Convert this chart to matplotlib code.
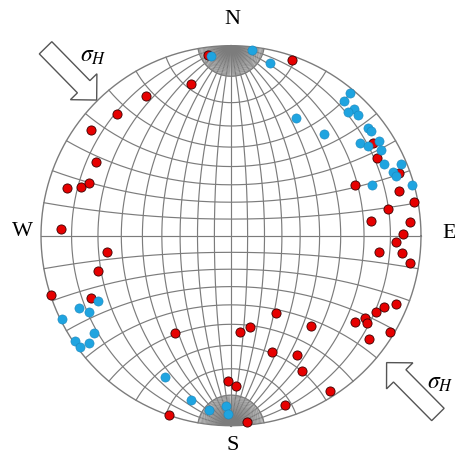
import numpy as np
import matplotlib
matplotlib.use('Agg')
import matplotlib.pyplot as plt
from matplotlib.patches import FancyArrow

# point positions in net units (radius = 1), x = east, y = north
red_x = [-0.121, -0.212, -0.449, -0.602, -0.738, -0.711, -0.862, -0.788, -0.746, -0.896,
         0.319, 0.746, 0.770, 0.886, 0.654, 0.886, 0.965, 0.828, 0.735, 0.944,
         0.907, 0.867, 0.779, 0.898, 0.944, 0.867, 0.807, 0.765, 0.704, 0.654,
         0.714, 0.838, 0.725, 0.237, 0.421, 0.098, 0.046, 0.216, 0.346, 0.375,
         0.521, -0.016, 0.024, 0.286, 0.085, -0.651, -0.700, -0.947, -0.738, -0.296,
         -0.326]
red_y = [0.951, 0.797, 0.735, 0.642, 0.556, 0.386, 0.249, 0.255, 0.277, 0.037,
         0.926, 0.486, 0.409, 0.328, 0.268, 0.235, 0.179, 0.139, 0.076, 0.071,
         0.009, -0.033, -0.087, -0.091, -0.142, -0.358, -0.374, -0.402, -0.435, -0.456,
         -0.459, -0.505, -0.542, -0.407, -0.477, -0.482, -0.505, -0.614, -0.629, -0.712,
         -0.816, -0.767, -0.790, -0.893, -0.981, -0.084, -0.187, -0.314, -0.328, -0.511,
         -0.942]

blue_x = [-0.103, 0.112, 0.204, 0.628, 0.593, 0.649, 0.614, 0.670, 0.341, 0.488,
          0.719, 0.737, 0.681, 0.719, 0.781, 0.788, 0.804, 0.895, 0.851, 0.870,
          0.742, 0.951, -0.700, -0.800, -0.749, -0.888, -0.721, -0.819, -0.746, -0.795,
          -0.349, -0.212, -0.114, -0.025, -0.017]
blue_y = [0.948, 0.977, 0.907, 0.749, 0.709, 0.667, 0.649, 0.637, 0.619, 0.535,
          0.565, 0.551, 0.489, 0.474, 0.498, 0.453, 0.376, 0.377, 0.335, 0.316,
          0.268, 0.267, -0.345, -0.382, -0.402, -0.438, -0.514, -0.553, -0.565, -0.587,
          -0.744, -0.865, -0.915, -0.895, -0.936]

labels = ['N', 'S', 'W', 'E']


def proj(lon, lat):
    # stereographic (Wulff) projection, pole axis N-S in the plane
    lon = np.radians(lon)
    lat = np.radians(lat)
    x = np.cos(lat) * np.sin(lon)
    y = np.sin(lat)
    z = np.cos(lat) * np.cos(lon)
    return x / (1 + z), y / (1 + z)


fig = plt.figure(figsize=(4.55, 4.55), dpi=100)
ax = fig.add_axes([0, 0, 1, 1])
cx, cy, R = 231.0, 235.7, 190.0
ax.set_xlim(-cx / R, (455 - cx) / R)
ax.set_ylim(-(455 - cy) / R, cy / R)
ax.axis('off')

gc = '#7c7c7c'
lw = 0.85

# meridians (great circles)
lat = np.linspace(-90, 90, 361)
for lon in range(-80, 90, 10):
    x, y = proj(lon, lat)
    ax.plot(x, y, color=gc, lw=lw, zorder=1)
# 2 degree meridians near the poles
for lon in range(-88, 90, 2):
    if lon % 10 == 0:
        continue
    for a, b in [(80, 90), (-90, -80)]:
        x, y = proj(lon, np.linspace(a, b, 30))
        ax.plot(x, y, color=gc, lw=0.5, zorder=1)

# small circles
lon = np.linspace(-90, 90, 361)
for la in range(-80, 90, 10):
    x, y = proj(lon, la)
    ax.plot(x, y, color=gc, lw=lw, zorder=1)

t = np.linspace(0, 2 * np.pi, 500)
ax.plot(np.cos(t), np.sin(t), color=gc, lw=1.0, zorder=1)

ax.plot(red_x, red_y, 'o', ms=6.6, mfc='#e60000', mec='#3a0000', mew=0.6, zorder=3)
ax.plot(blue_x, blue_y, 'o', ms=6.6, mfc='#1fa4e0', mec='#1b86bb', mew=0.4, zorder=4)

# direction labels
fnt = dict(family='Liberation Serif', fontsize=16, color='black')
ax.text((232 - cx) / R, (cy - 19) / R, labels[0], ha='center', va='center', **fnt)
ax.text((233 - cx) / R, (cy - 446) / R, labels[1], ha='center', va='center', **fnt)
ax.text((22 - cx) / R, (cy - 232) / R, labels[2], ha='center', va='center', **fnt)
ax.text((442 - cx) / R, (cy - 233) / R, labels[3], ha='left', va='center', **fnt)

# sigma H arrows
plt.rcParams['mathtext.fontset'] = 'stix'
for (x0, y0), (x1, y1), (tx, ty) in [((-0.976, 0.989), (-0.707, 0.714), (93, 55)),
                                     ((1.089, -0.941), (0.819, -0.668), (440, 382))]:
    ar = FancyArrow(x0, y0, x1 - x0, y1 - y0, width=0.092, head_width=0.195,
                    head_length=0.098, length_includes_head=True,
                    fc='white', ec='#555555', lw=1.0, zorder=5)
    ax.add_patch(ar)
    ax.text((tx - cx) / R, (cy - ty) / R, r'$\sigma_H$', fontsize=17,
            ha='center', va='center', zorder=6)

fig.savefig('out.png', dpi=100)
